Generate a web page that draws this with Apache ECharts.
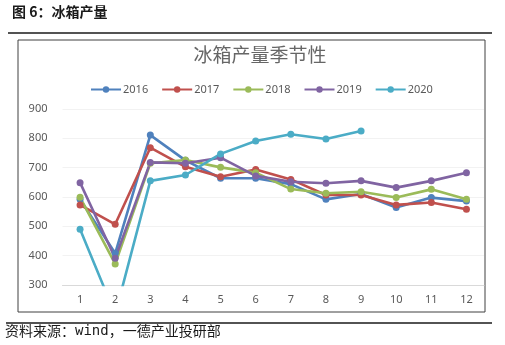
<!DOCTYPE html>
<html>
<head>
<meta charset="utf-8">
<script src="https://cdn.jsdelivr.net/npm/echarts@6/dist/echarts.min.js"></script>
<style>
  html, body { margin: 0; padding: 0; background: #fff; }
  #chart { width: 505px; height: 345px; }
</style>
</head>
<body>
<div id="chart"></div>
<script>
// Monthly refrigerator output, one series per year
const months = ['1', '2', '3', '4', '5', '6', '7', '8', '9', '10', '11', '12'];
const years = ['2016', '2017', '2018', '2019', '2020'];
const s2016 = [592, 408, 811, 725, 664, 664, 644, 592, 610, 564, 598, 586];
const s2017 = [573, 507, 768, 703, 669, 694, 660, 607, 607, 573, 581, 558];
const s2018 = [599, 372, 715, 726, 701, 683, 627, 613, 618, 598, 626, 592];
const s2019 = [649, 391, 718, 715, 734, 672, 652, 647, 655, 632, 655, 683];
const s2020 = [490, 200, 655, 675, 747, 791, 814, 798, 825];
const colors = ['#4F81BD', '#C0504D', '#9BBB59', '#8064A2', '#4BACC6'];
const yTicks = { min: 300, max: 900, step: 100 };

const seriesValues = [s2016, s2017, s2018, s2019, s2020];

const chart = echarts.init(document.getElementById('chart'), null, { renderer: 'canvas' });

chart.setOption({
  animation: false,
  color: colors,
  legend: {
    data: years,
    left: 85,
    top: 79,
    itemWidth: 30,
    itemHeight: 8,
    itemGap: 13,
    textStyle: { fontFamily: 'Noto Sans', fontSize: 11, color: '#595959', padding: [0, 0, 0, -3] }
  },
  grid: { left: 62.5, right: 21, top: 109, bottom: 60, containLabel: false },
  xAxis: {
    type: 'category',
    data: months,
    boundaryGap: true,
    axisTick: { show: false },
    axisLine: { lineStyle: { color: '#d9d9d9', width: 1 } },
    axisLabel: { color: '#595959', fontFamily: 'Noto Sans', fontSize: 11, margin: 9 }
  },
  yAxis: {
    type: 'value',
    min: yTicks.min,
    max: yTicks.max,
    interval: yTicks.step,
    axisLine: { show: false },
    axisTick: { show: false },
    splitLine: { lineStyle: { color: '#f2f2f2', width: 1 } },
    axisLabel: { color: '#595959', fontFamily: 'Noto Sans', fontSize: 11, margin: 15 }
  },
  series: years.map((y, i) => ({
    name: y,
    type: 'line',
    data: seriesValues[i],
    symbol: 'circle',
    symbolSize: 7,
    clip: true,
    lineStyle: { width: 2.6 },
    itemStyle: { color: colors[i] }
  })),
  graphic: [
    {
      type: 'text', x: 12, y: 5,
      style: { text: '图 6：冰箱产量', font: 'bold 14px "Noto Sans CJK SC"', fill: '#1a1a1a' }
    },
    {
      type: 'line', shape: { x1: 8, y1: 33, x2: 492, y2: 33 },
      style: { stroke: '#1a1a1a', lineWidth: 1.5 }
    },
    {
      type: 'rect', shape: { x: 18, y: 40, width: 467, height: 272 },
      style: { fill: 'none', stroke: '#404040', lineWidth: 1 }, silent: true
    },
    {
      type: 'text', x: 260, y: 55,
      style: {
        text: '冰箱产量季节性', font: '19px "Noto Sans CJK SC"', fill: '#666666',
        align: 'center', verticalAlign: 'middle'
      }
    },
    {
      type: 'line', shape: { x1: 6, y1: 323, x2: 492, y2: 323 },
      style: { stroke: '#1a1a1a', lineWidth: 1.5 }
    },
    {
      type: 'text', x: 5, y: 331,
      style: {
        text: '{a|资料来源：}{m|wind}{a|，一德产业投研部}',
        verticalAlign: 'middle',
        rich: {
          a: { font: '14px "Noto Sans CJK SC"', fill: '#1a1a1a' },
          m: { font: '14px "DejaVu Sans Mono"', fill: '#1a1a1a' }
        }
      }
    }
  ]
});
</script>
</body>
</html>
